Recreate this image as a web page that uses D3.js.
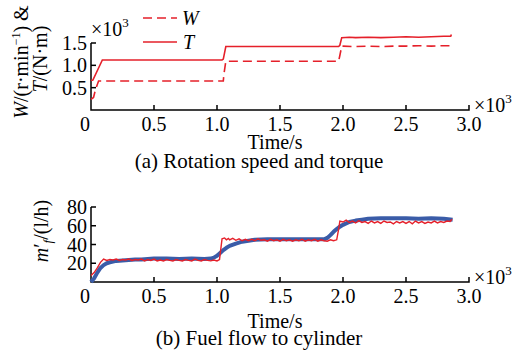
<!DOCTYPE html>
<html>
<head>
<meta charset="utf-8">
<script src="https://cdn.jsdelivr.net/npm/d3@7"></script>
<style>
  body { margin: 0; background: #fff; }
</style>
</head>
<body>
<svg id="chart" width="513" height="360"></svg>
<script>
// time in 10^3 s
const xTicks = [0, 0.5, 1.0, 1.5, 2.0, 2.5, 3.0];
const topYTicks = [0.5, 1.0, 1.5];
const botYTicks = [20, 40, 60, 80];

// rotation speed W (x10^3 r/min)
const speedW = [
  [0, 0.24], [0.02, 0.28], [0.035, 0.45], [0.06, 0.65], [1.05, 0.65], [1.055, 0.8],
  [1.07, 1.09], [1.965, 1.09], [1.975, 1.22], [1.99, 1.43], [2.1, 1.42], [2.2, 1.43],
  [2.3, 1.42], [2.4, 1.43], [2.5, 1.43], [2.6, 1.44], [2.7, 1.43], [2.8, 1.44],
  [2.855, 1.44], [2.86, 1.49]
];
// torque T (x10^3 N·m)
const torqueT = [
  [0, 0.66], [0.015, 0.67], [0.09, 1.12], [1.04, 1.12], [1.05, 1.14], [1.07, 1.42],
  [1.965, 1.42], [1.975, 1.45], [1.99, 1.62], [2.05, 1.63], [2.1, 1.62], [2.2, 1.63],
  [2.3, 1.62], [2.4, 1.63], [2.5, 1.64], [2.6, 1.63], [2.7, 1.64], [2.8, 1.65],
  [2.855, 1.65], [2.86, 1.69]
];

// fuel flow, measured (red)
const fuelMeasured = [
  [0, 7], [0.025, 10], [0.05, 15], [0.075, 21], [0.1, 24.5], [0.125, 23], [0.15, 24],
  [0.175, 23.5], [0.2, 24.5], [0.225, 23], [0.25, 24], [0.275, 23.5], [0.3, 24.5],
  [0.325, 23], [0.35, 24], [0.375, 23.5], [0.4, 24.5], [0.425, 22.5], [0.45, 24],
  [0.475, 23], [0.5, 24.5], [0.525, 22.5], [0.55, 23.5], [0.575, 22.5], [0.6, 24],
  [0.625, 23], [0.65, 22.5], [0.675, 24], [0.7, 23], [0.725, 22.5], [0.75, 24],
  [0.775, 23], [0.8, 22.5], [0.825, 24.5], [0.85, 23], [0.875, 22.5], [0.9, 24],
  [0.925, 23], [0.95, 22.5], [0.975, 23.5], [1.0, 22.5], [1.02, 24], [1.04, 46],
  [1.06, 47], [1.075, 45], [1.09, 46.5], [1.1, 45], [1.125, 46.5], [1.15, 44.5],
  [1.175, 46], [1.2, 44], [1.225, 45.5], [1.25, 44], [1.275, 45.5], [1.3, 44],
  [1.325, 46], [1.35, 44.5], [1.375, 45], [1.4, 43.5], [1.425, 45.5], [1.45, 44],
  [1.475, 45], [1.5, 43.5], [1.525, 45.5], [1.55, 44], [1.575, 45], [1.6, 43.5],
  [1.625, 45], [1.65, 44], [1.675, 45.5], [1.7, 43.5], [1.725, 45], [1.75, 44],
  [1.775, 45.5], [1.8, 43.5], [1.825, 45], [1.85, 44], [1.875, 43.5], [1.9, 45],
  [1.925, 44], [1.95, 45], [1.965, 56], [1.975, 65], [2.0, 64], [2.025, 66],
  [2.05, 63.5], [2.075, 65], [2.1, 63], [2.125, 65.5], [2.15, 63.5], [2.175, 64.5],
  [2.2, 62.5], [2.225, 65], [2.25, 63], [2.275, 64.5], [2.3, 62.5], [2.325, 65],
  [2.35, 63.5], [2.375, 64], [2.4, 62], [2.425, 64.5], [2.45, 63], [2.475, 64.5],
  [2.5, 62.5], [2.525, 64.5], [2.55, 62], [2.575, 65], [2.6, 63], [2.625, 64.5],
  [2.65, 62.5], [2.675, 64], [2.7, 63], [2.725, 65], [2.75, 63], [2.775, 64.5],
  [2.8, 63.5], [2.825, 65], [2.85, 64.5], [2.865, 67]
];
// fuel flow, model (blue)
const fuelModel = [
  [0, 0], [0.025, 4], [0.05, 10], [0.075, 15], [0.1, 18], [0.125, 20], [0.15, 21],
  [0.2, 22.5], [0.25, 23], [0.3, 23.5], [0.35, 24], [0.4, 24], [0.45, 24.5],
  [0.5, 25], [0.6, 25], [0.7, 24.5], [0.8, 25], [0.9, 24.5], [0.95, 25], [0.975, 26],
  [1.0, 28], [1.025, 31], [1.05, 34], [1.075, 36.5], [1.1, 38.5], [1.15, 41],
  [1.2, 43], [1.25, 44], [1.3, 45], [1.4, 45.5], [1.5, 45.5], [1.6, 45.5],
  [1.7, 45.5], [1.8, 45.5], [1.85, 45.5], [1.875, 47], [1.9, 50], [1.925, 53.5],
  [1.95, 56.5], [1.975, 59], [2.0, 61], [2.05, 64], [2.1, 65.5], [2.15, 66.5],
  [2.2, 67.5], [2.3, 68], [2.4, 68], [2.5, 68], [2.6, 67.5], [2.7, 68], [2.8, 67.5],
  [2.87, 66.5]
];

const red = "#e5202a";
const blue = "#3a5ca8";
const serif = "'Liberation Serif'";

const svg = d3.select("#chart");

const x = d3.scaleLinear().domain([0, 3]).range([91, 469]);
const yTop = d3.scaleLinear().domain([0, 1.5]).range([110, 43]);
const yBot = d3.scaleLinear().domain([0, 80]).range([282, 207]);

function fmt(d) { return d === 0 ? "0" : d3.format(".1f")(d); }

function drawAxes(y, yTicks, yFmt, xBase, yTop0) {
  const g = svg.append("g");
  g.append("path")
    .attr("d", `M${x(0)},${yTop0}V${xBase}H${x(3)}V${xBase - 5}`)
    .attr("fill", "none").attr("stroke", "#000").attr("stroke-width", 1.5);
  g.selectAll("line.xt").data(xTicks.slice(1, -1)).join("line")
    .attr("x1", d => x(d)).attr("x2", d => x(d))
    .attr("y1", xBase).attr("y2", xBase - 5)
    .attr("stroke", "#000").attr("stroke-width", 1.5);
  g.selectAll("text.xl").data(xTicks).join("text")
    .attr("x", d => x(d) + (d === 0 ? -6 : 0)).attr("y", xBase + 21)
    .attr("text-anchor", "middle").attr("font-size", 20)
    .style("font-family", serif)
    .text(fmt);
  g.selectAll("line.yt").data(yTicks).join("line")
    .attr("x1", x(0)).attr("x2", x(0) + 5)
    .attr("y1", d => y(d)).attr("y2", d => y(d))
    .attr("stroke", "#000").attr("stroke-width", 1.5);
  g.selectAll("text.yl").data(yTicks).join("text")
    .attr("x", 87).attr("y", d => y(d) + 7)
    .attr("text-anchor", "end").attr("font-size", 20)
    .style("font-family", serif)
    .text(yFmt);
  // x10^3 at axis end
  const e = g.append("text").attr("x", 474).attr("y", xBase + 2).attr("font-size", 20)
    .style("font-family", serif);
  e.append("tspan").text("×10");
  e.append("tspan").attr("font-size", 13).attr("dy", -9).text("3");
}

drawAxes(yTop, topYTicks, fmt, 110, 43);
drawAxes(yBot, botYTicks, d => d, 282, 207);

// ---- top panel lines
const lineTop = d3.line().x(d => x(d[0])).y(d => yTop(d[1]));
svg.append("path").attr("d", lineTop(torqueT))
  .attr("fill", "none").attr("stroke", red).attr("stroke-width", 1.6);
svg.append("path").attr("d", lineTop(speedW))
  .attr("fill", "none").attr("stroke", red).attr("stroke-width", 1.6)
  .attr("stroke-dasharray", "9,5");

// x10^3 above the y axis
const t3 = svg.append("text").attr("x", 91).attr("y", 36).attr("font-size", 20)
  .style("font-family", serif);
t3.append("tspan").text("×10");
t3.append("tspan").attr("font-size", 13).attr("dy", -9).text("3");

// legend
svg.append("line").attr("x1", 143).attr("x2", 177).attr("y1", 18).attr("y2", 18)
  .attr("stroke", red).attr("stroke-width", 1.6).attr("stroke-dasharray", "9,5");
svg.append("text").attr("x", 182).attr("y", 25).attr("font-size", 20)
  .style("font-family", serif).attr("font-style", "italic").text("W");
svg.append("line").attr("x1", 143).attr("x2", 177).attr("y1", 42).attr("y2", 42)
  .attr("stroke", red).attr("stroke-width", 1.6);
svg.append("text").attr("x", 183).attr("y", 49).attr("font-size", 20)
  .style("font-family", serif).attr("font-style", "italic").text("T");

// ---- bottom panel lines
const lineBot = d3.line().x(d => x(d[0])).y(d => yBot(d[1]));
svg.append("path").attr("d", lineBot(fuelModel))
  .attr("fill", "none").attr("stroke", blue).attr("stroke-width", 4)
  .attr("stroke-linejoin", "round");
svg.append("path").attr("d", lineBot(fuelMeasured))
  .attr("fill", "none").attr("stroke", red).attr("stroke-width", 1.4);

// ---- titles
function centerText(tx, ty, str, size) {
  svg.append("text").attr("x", tx).attr("y", ty).attr("text-anchor", "middle")
    .style("font-family", serif).attr("font-size", size).text(str);
}
centerText(275, 149, "Time/s", 20);
centerText(259, 168, "(a) Rotation speed and torque", 21);
centerText(275, 328, "Time/s", 20);
centerText(259, 345, "(b) Fuel flow to cylinder", 21);

// y labels (rotated)
const yl1 = svg.append("text").attr("transform", "translate(28,62) rotate(-90)")
  .attr("text-anchor", "middle").attr("font-size", 20).style("font-family", serif);
yl1.append("tspan").attr("font-style", "italic").text("W");
yl1.append("tspan").text("/(r·min");
yl1.append("tspan").attr("font-size", 12).attr("dy", -8).text("−1");
yl1.append("tspan").attr("dy", 8).text(") &");

const yl2 = svg.append("text").attr("transform", "translate(47,59) rotate(-90)")
  .attr("text-anchor", "middle").attr("font-size", 20).style("font-family", serif);
yl2.append("tspan").attr("font-style", "italic").text("T");
yl2.append("tspan").text("/(N·m)");

const yl3 = svg.append("text").attr("transform", "translate(48,231) rotate(-90)")
  .attr("text-anchor", "middle").attr("font-size", 20).style("font-family", serif);
yl3.append("tspan").attr("font-style", "italic").text("m");
yl3.append("tspan").text("′");
yl3.append("tspan").attr("font-style", "italic").attr("font-size", 13).attr("dy", 4).text("f");
yl3.append("tspan").attr("dy", -4).text("/(l/h)");
</script>
</body>
</html>
